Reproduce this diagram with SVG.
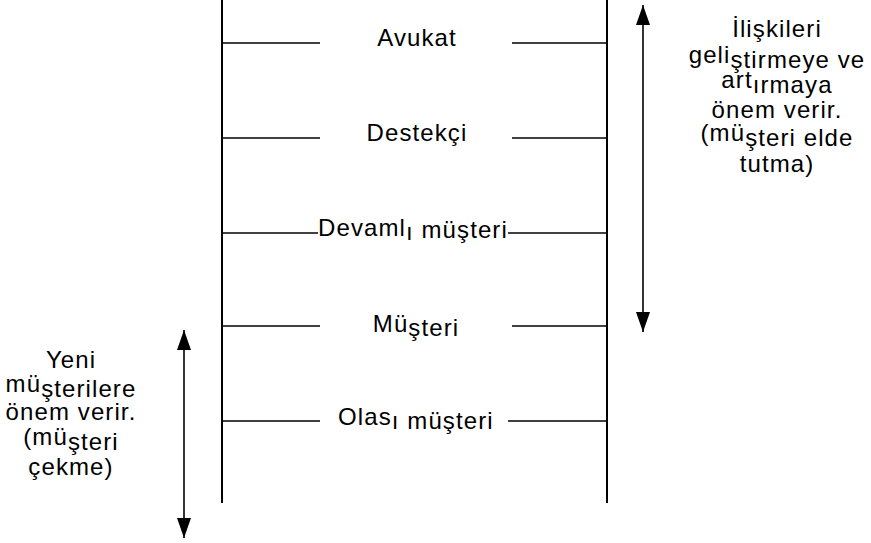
<svg xmlns="http://www.w3.org/2000/svg" width="871" height="543" viewBox="0 0 871 543">
  <style>
    .lbl { font-family: "Liberation Sans", Arial, sans-serif; font-size: 24px; letter-spacing: 1.1px; fill: #000; }
    .mid { text-anchor: middle; }
    .rail { stroke: #000; stroke-width: 2; fill: none; }
    .rung { stroke: #000; stroke-width: 1.3; fill: none; }
    .arw { stroke: #000; stroke-width: 1.6; fill: none; }
  </style>
  <defs>
    <marker id="head" viewBox="0 0 20 14" refX="20" refY="7" markerWidth="20" markerHeight="14" markerUnits="userSpaceOnUse" orient="auto-start-reverse">
      <path d="M0,0 L20,7 L0,14 Z" fill="#000"/>
    </marker>
  </defs>
  <rect width="871" height="543" fill="#fff"/>

  <!-- ladder rails and rungs -->
  <g id="connectors">
    <line class="rail" x1="222" y1="0" x2="222" y2="503"/>
    <line class="rail" x1="607" y1="0" x2="607" y2="503"/>
    <line class="rung" x1="222" y1="43" x2="320" y2="43"/>
    <line class="rung" x1="512" y1="43" x2="606" y2="43"/>
    <line class="rung" x1="222" y1="138" x2="320" y2="138"/>
    <line class="rung" x1="512" y1="138" x2="606" y2="138"/>
    <line class="rung" x1="222" y1="233" x2="318" y2="233"/>
    <line class="rung" x1="508" y1="233" x2="606" y2="233"/>
    <line class="rung" x1="222" y1="326" x2="320" y2="326"/>
    <line class="rung" x1="512" y1="326" x2="606" y2="326"/>
    <line class="rung" x1="222" y1="421" x2="320" y2="421"/>
    <line class="rung" x1="508" y1="421" x2="606" y2="421"/>
    <!-- range arrows -->
    <line class="arw" x1="643" y1="5" x2="643" y2="332" marker-start="url(#head)" marker-end="url(#head)"/>
    <line class="arw" x1="184" y1="330" x2="184" y2="538" marker-start="url(#head)" marker-end="url(#head)"/>
  </g>

  <g id="avukat">
    <text class="lbl mid" x="417" y="46">Avukat</text>
  </g>
  <g id="destekci">
    <text class="lbl mid" x="417" y="141">Destekçi</text>
  </g>
  <g id="devamli-musteri">
    <text class="lbl" x="318" y="236">Devaml<tspan dy="4">ı</tspan><tspan dy="-2"> müşteri</tspan></text>
  </g>
  <g id="musteri">
    <text class="lbl mid" x="416" y="332">Mü<tspan dy="4">şteri</tspan></text>
  </g>
  <g id="olasi-musteri">
    <text class="lbl" x="338" y="425">Olas<tspan dy="4">ı müşteri</tspan></text>
  </g>

  <g id="elde-tutma">
    <text class="lbl mid" x="777" y="37">İlişkileri</text>
    <text class="lbl mid" x="777" y="63">geli<tspan dy="5">ştirmeye ve</tspan></text>
    <text class="lbl mid" x="777" y="88">art<tspan dy="5">ırmaya</tspan></text>
    <text class="lbl mid" x="777" y="118">önem verir.</text>
    <text class="lbl mid" x="777" y="141">(mü<tspan dy="5">şteri elde</tspan></text>
    <text class="lbl mid" x="777" y="172">tutma)</text>
  </g>

  <g id="musteri-cekme">
    <text class="lbl mid" x="71" y="368">Yeni</text>
    <text class="lbl mid" x="71" y="392">mü<tspan dy="5">şterilere</tspan></text>
    <text class="lbl mid" x="71" y="420">önem verir.</text>
    <text class="lbl mid" x="71" y="445">(mü<tspan dy="5">şteri</tspan></text>
    <text class="lbl mid" x="71" y="475">çekme)</text>
  </g>
</svg>
